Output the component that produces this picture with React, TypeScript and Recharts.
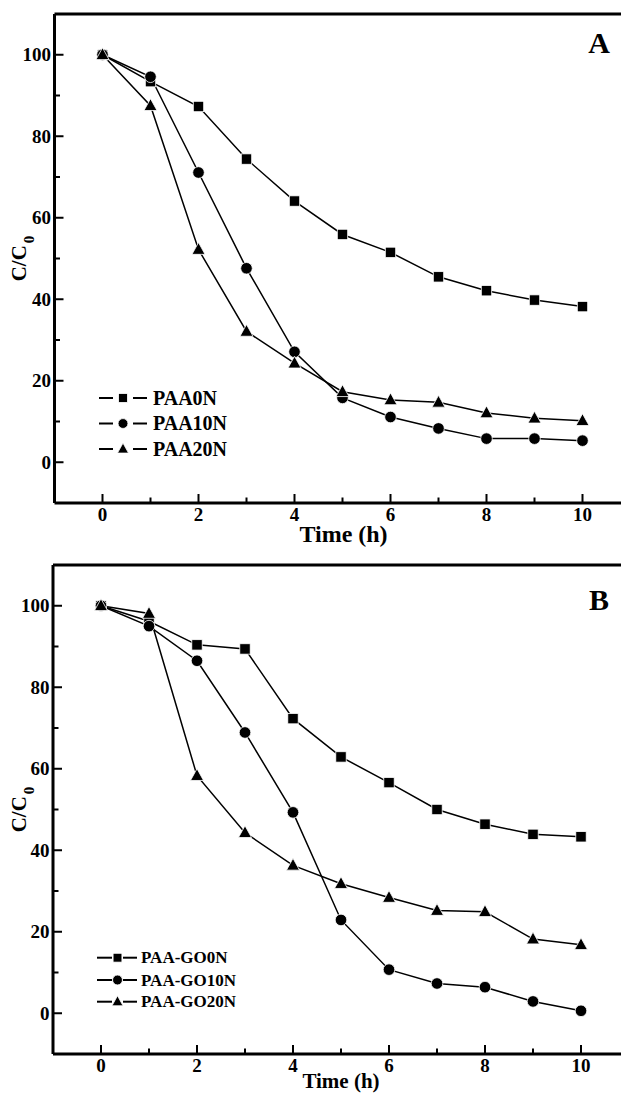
import { Customized, Legend, Line, LineChart, ReferenceLine, XAxis, YAxis } from 'recharts'

const HOURS = [0, 1, 2, 3, 4, 5, 6, 7, 8, 9, 10]
const X_LABELS = [0, 2, 4, 6, 8, 10]
const Y_TICKS = [0, 10, 20, 30, 40, 50, 60, 70, 80, 90, 100]
const Y_LABELS = [0, 20, 40, 60, 80, 100]

// panel A
const PAA_NAMES = ['PAA0N', 'PAA10N', 'PAA20N']
const PAA0N = [100, 93.4, 87.3, 74.4, 64.1, 55.9, 51.5, 45.5, 42.1, 39.8, 38.2]
const PAA10N = [100, 94.6, 71.1, 47.6, 27.1, 15.8, 11.1, 8.3, 5.8, 5.8, 5.3]
const PAA20N = [100, 87.5, 52.2, 32.1, 24.3, 17.3, 15.3, 14.7, 12.1, 10.8, 10.2]

// panel B
const GO_NAMES = ['PAA-GO0N', 'PAA-GO10N', 'PAA-GO20N']
const GO0N = [100, 96.2, 90.4, 89.4, 72.3, 62.9, 56.6, 50.0, 46.4, 43.9, 43.3]
const GO10N = [100, 95.0, 86.5, 68.9, 49.3, 22.9, 10.7, 7.3, 6.4, 2.9, 0.6]
const GO20N = [100, 98.1, 58.3, 44.3, 36.3, 31.8, 28.4, 25.2, 24.9, 18.2, 16.8]

const SHAPES = ['square', 'circle', 'triangle'] as const
type Shape = (typeof SHAPES)[number]

const FONT = "'Liberation Serif', 'Times New Roman', serif"
const KEYS = ['s0', 's1', 's2']

function Marker({ shape, cx, cy, scale = 1 }: { shape: Shape; cx?: number; cy?: number; scale?: number }) {
  if (cx == null || cy == null) return null
  const s = scale
  if (shape === 'square')
    return <rect x={cx - 5.2 * s} y={cy - 5.2 * s} width={10.4 * s} height={10.4 * s} fill="#000" stroke="#fff" strokeWidth={0.8} />
  if (shape === 'circle') return <circle cx={cx} cy={cy} r={5.8 * s} fill="#000" stroke="#fff" strokeWidth={0.8} />
  return (
    <polygon
      points={`${cx},${cy - 7 * s} ${cx - 6.5 * s},${cy + 4.8 * s} ${cx + 6.5 * s},${cy + 4.8 * s}`}
      fill="#000"
      stroke="#fff"
      strokeWidth={0.8}
    />
  )
}

const XTick = (props: any) => {
  const { x, y, payload } = props
  const major = X_LABELS.includes(payload.value)
  return (
    <g>
      <line x1={x} x2={x} y1={y} y2={y - (major ? 9 : 5.5)} stroke="#000" strokeWidth={2} />
      {major && (
        <text x={x} y={y + 18} textAnchor="middle" fontFamily={FONT} fontWeight="bold" fontSize={19} fill="#000">
          {payload.value}
        </text>
      )}
    </g>
  )
}

const YTick = (props: any) => {
  const { x, y, payload } = props
  const major = Y_LABELS.includes(payload.value)
  return (
    <g>
      <line x1={x} x2={x + (major ? 9 : 5.5)} y1={y} y2={y} stroke="#000" strokeWidth={2} />
      {major && (
        <text x={x - 3.5} y={y + 6.5} textAnchor="end" fontFamily={FONT} fontWeight="bold" fontSize={19} fill="#000">
          {payload.value}
        </text>
      )}
    </g>
  )
}

type LegendCfg = { top: number; rows: number[]; dashes: number[][]; marker: number; textX: number; fontSize: number }

type PanelProps = {
  top: number
  height: number
  yAxisWidth: number
  marginRight: number
  xAxisHeight: number
  letter: string
  letterY: number
  names: string[]
  series: number[][]
  legend: LegendCfg
  timeSize: number
  timeDx: number
  timeY: number
}

function Panel(p: PanelProps) {
  const rows = HOURS.map((t, i) => ({ t, s0: p.series[0][i], s1: p.series[1][i], s2: p.series[2][i] }))
  const lg = p.legend

  const renderLegend = () => (
    <svg width={260} height={lg.rows[2] + 14} style={{ display: 'block' }}>
      {p.names.map((name, i) => (
        <g key={name}>
          {lg.dashes.map(([a, b]) => (
            <line key={a} x1={a} x2={b} y1={lg.rows[i]} y2={lg.rows[i]} stroke="#000" strokeWidth={2} />
          ))}
          <Marker shape={SHAPES[i]} cx={lg.marker} cy={lg.rows[i]} scale={0.85} />
          <text x={lg.textX} y={lg.rows[i] + lg.fontSize * 0.34} fontFamily={FONT} fontWeight="bold" fontSize={lg.fontSize} fill="#000">
            {name}
          </text>
        </g>
      ))}
    </svg>
  )

  const yTitle = (props: any) => {
    const vb = props.viewBox ?? { y: 14, height: 489 }
    const cy = vb.y + vb.height / 2
    return (
      <text transform={`translate(26, ${cy}) rotate(-90)`} textAnchor="middle" fontFamily={FONT} fontWeight="bold" fontSize={21} fill="#000">
        C/C
        <tspan dx={2} dy={8} fontSize={15}>
          0
        </tspan>
      </text>
    )
  }

  const xTitle = (props: any) => {
    const vb = props.viewBox ?? { x: 54, width: 576, y: 503 }
    return (
      <text x={vb.x + vb.width / 2 + p.timeDx} y={p.timeY} textAnchor="middle" fontFamily={FONT} fontWeight="bold" fontSize={p.timeSize} fill="#000">
        Time (h)
      </text>
    )
  }

  return (
    <div style={{ position: 'absolute', left: 0, top: p.top }}>
      <LineChart
        width={660}
        height={p.height}
        data={rows}
        margin={{ top: 14, right: p.marginRight, bottom: 0, left: 0 }}
      >
        <XAxis
          dataKey="t"
          type="number"
          domain={[-1, 11]}
          ticks={HOURS}
          interval={0}
          height={p.xAxisHeight}
          tickSize={0}
          tickMargin={0}
          tickLine={false}
          tick={XTick}
          axisLine={{ stroke: '#000', strokeWidth: 3 }}
          label={{ content: xTitle }}
        />
        <YAxis
          type="number"
          domain={[-10, 110]}
          ticks={Y_TICKS}
          interval={0}
          width={p.yAxisWidth}
          tickSize={0}
          tickMargin={0}
          tickLine={false}
          tick={YTick}
          axisLine={{ stroke: '#000', strokeWidth: 3 }}
          label={{ content: yTitle }}
        />
        <ReferenceLine y={110} stroke="#000" strokeWidth={3} />
        <ReferenceLine x={11} stroke="#000" strokeWidth={3} />
        {KEYS.map((k, i) => (
          <Line
            key={k}
            dataKey={k}
            name={p.names[i]}
            type="linear"
            stroke="#000"
            strokeWidth={1.5}
            isAnimationActive={false}
            dot={(d: any) => <Marker key={`${k}-${d.index}`} shape={SHAPES[i]} cx={d.cx} cy={d.cy} />}
            activeDot={false}
          />
        ))}
        <Legend
          layout="horizontal"
          verticalAlign="middle"
          align="center"
          content={renderLegend}
          wrapperStyle={{ position: 'absolute', left: 0, top: lg.top, width: 260 }}
        />
        <Customized
          component={() => (
            <text x={599} y={p.letterY} textAnchor="middle" fontFamily={FONT} fontWeight="bold" fontSize={30} fill="#000">
              {p.letter}
            </text>
          )}
        />
      </LineChart>
    </div>
  )
}

export default function App() {
  return (
    <div
      style={{
        position: 'fixed',
        left: 0,
        top: 0,
        width: 621,
        height: 1094,
        overflow: 'hidden',
        background: '#fff',
      }}
    >
      <Panel
        top={0}
        height={550}
        yAxisWidth={54.5}
        marginRight={29.5}
        xAxisHeight={47}
        letter="A"
        letterY={53}
        names={PAA_NAMES}
        series={[PAA0N, PAA10N, PAA20N]}
        legend={{ top: 380, rows: [18, 43.5, 69], dashes: [[99, 113], [133, 147]], marker: 123, textX: 153, fontSize: 20 }}
        timeSize={24}
        timeDx={1}
        timeY={542}
      />
      <Panel
        top={551}
        height={543}
        yAxisWidth={53}
        marginRight={31}
        xAxisHeight={40}
        letter="B"
        letterY={59}
        names={GO_NAMES}
        series={[GO0N, GO10N, GO20N]}
        legend={{ top: 390, rows: [16.7, 39, 60.7], dashes: [[97, 112], [123, 137]], marker: 117.5, textX: 141, fontSize: 17 }}
        timeSize={21}
        timeDx={0}
        timeY={537}
      />
    </div>
  )
}
